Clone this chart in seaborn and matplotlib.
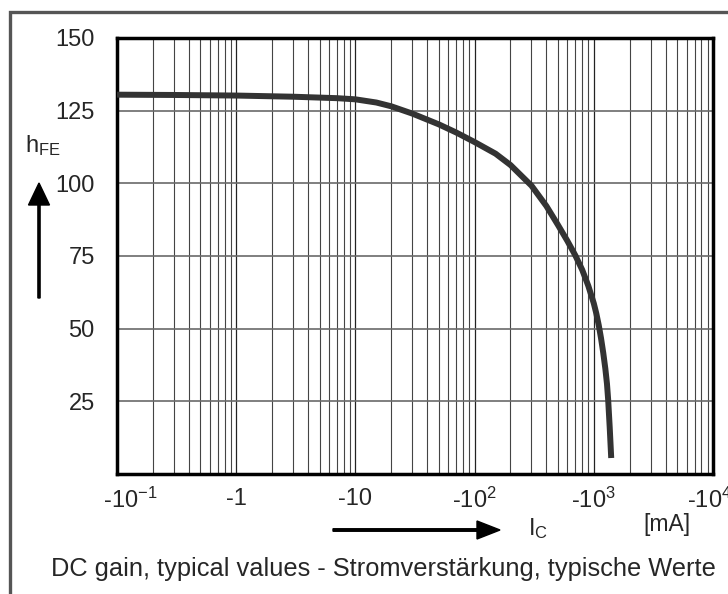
import matplotlib
matplotlib.use("Agg")
import numpy as np
import pandas as pd
import seaborn as sns
import matplotlib.pyplot as plt
from matplotlib.patches import Rectangle, FancyArrow
from matplotlib.ticker import FixedLocator, NullFormatter

# values (Ic in mA, shown as negative)
ic_ma = [0.1, 0.3, 1, 3, 7, 10, 15, 20, 30, 50, 70, 100, 150, 200, 300, 400, 500,
         600, 700, 800, 900, 1000, 1050, 1100, 1150, 1200, 1250, 1290, 1320, 1360, 1400]
hfe = [130.5, 130.4, 130.2, 129.8, 129.3, 128.9, 127.8, 126.5, 124.0, 120.3, 117.5,
       114.2, 110.2, 106.3, 99.2, 92.2, 85.7, 80.2, 75.2, 70.2, 64.7, 58.7, 55.2,
       51.2, 46.7, 41.7, 36.2, 31.0, 25.5, 16.0, 5.5]

x_ticks = [0.1, 1, 10, 100, 1000, 10000]
# padding spaces nudge the outer labels the way the datasheet has them
x_labels = ["    -10$^{-1}$", "-1", "-10", "-10$^{2}$", "-10$^{3}$", "-10$^{4}$  "]
y_ticks = [25, 50, 75, 100, 125, 150]

sns.set_style("white")
plt.rcParams["font.family"] = ["Liberation Sans", "DejaVu Sans"]
plt.rcParams["mathtext.fontset"] = "custom"
plt.rcParams["mathtext.rm"] = "Liberation Sans"
plt.rcParams["mathtext.it"] = "Liberation Sans"
plt.rcParams["mathtext.default"] = "rm"

fig = plt.figure(figsize=(7.28, 5.94), dpi=100)
ax = fig.add_axes([117 / 728, 1 - 474 / 594, 596 / 728, 436 / 594])

df = pd.DataFrame({"ic": ic_ma, "hfe": hfe})
sns.lineplot(data=df, x="ic", y="hfe", ax=ax, color="#333333", linewidth=4.3,
             solid_capstyle="butt", solid_joinstyle="round", zorder=5)

ax.set_xscale("log")
ax.set_xlim(0.1, 10000)
ax.set_ylim(0, 150)

minor = [m * 10.0 ** e for e in range(-1, 4) for m in range(2, 10)]
ax.xaxis.set_minor_locator(FixedLocator(minor))
ax.xaxis.set_minor_formatter(NullFormatter())
ax.set_xticks(x_ticks)
ax.set_xticklabels(x_labels, fontsize=17)
ax.set_yticks(y_ticks)
ax.set_yticklabels([str(v) for v in y_ticks], fontsize=17)

ax.grid(True, which="major", axis="x", color="#222222", linewidth=0.9)
ax.grid(True, which="minor", axis="x", color="#444444", linewidth=0.8)
ax.grid(True, which="major", axis="y", color="#6a6a6a", linewidth=1.2)

ax.tick_params(axis="x", which="major", direction="out", length=5, width=1,
               color="#777777", pad=5)
ax.tick_params(axis="x", which="minor", length=0)
ax.tick_params(axis="y", length=0, pad=16)

for sp in ax.spines.values():
    sp.set_visible(True)
    sp.set_color("black")
    sp.set_linewidth(2.5)
ax.set_xlabel("")
ax.set_ylabel("")

# y label and arrow
fig.text(25 / 728, 1 - 146 / 594, r"$\mathrm{h_{FE}}$", fontsize=17, va="center")
fig.patches.append(FancyArrow(
    39 / 728, 1 - 298 / 594, 0, 115 / 594, width=2.2 / 728, head_width=21 / 728,
    head_length=22 / 594, length_includes_head=True, color="black",
    transform=fig.transFigure))

# x label and arrow
fig.patches.append(FancyArrow(
    333 / 728, 1 - 530 / 594, 167 / 728, 0, width=2.5 / 594, head_width=18 / 594,
    head_length=23 / 728, length_includes_head=True, color="black",
    transform=fig.transFigure))
fig.text(528 / 728, 1 - 529 / 594, r"$\mathrm{I_C}$", fontsize=17, va="center")
fig.text(667 / 728, 1 - 525 / 594, "[mA]", fontsize=16.5, ha="center", va="center")
fig.text(383 / 728, 1 - 569 / 594,
         "DC gain, typical values - Stromverstärkung, typische Werte",
         fontsize=18.3, ha="center", va="center")

# outer frame of the datasheet figure
fig.patches.append(Rectangle((10 / 728, -0.5), 2, 0.5 + (594 - 12) / 594,
                             transform=fig.transFigure, fill=False,
                             edgecolor="#555555", linewidth=2.4))

fig.savefig("out.png", dpi=100)
